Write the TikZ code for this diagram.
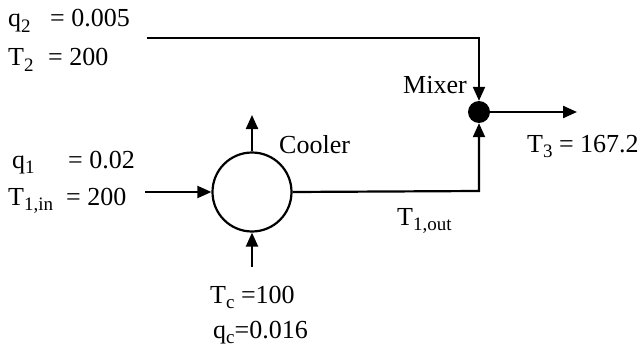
\documentclass[tikz,border=0pt]{standalone}
\usepackage{fontspec}
\setmainfont{Liberation Serif}
\usetikzlibrary{arrows.meta}
\newcommand\mysub[1]{\raisebox{-0.5ex}{\fontsize{19}{19}\selectfont #1}}
\tikzset{
  lbl/.style={inner sep=0pt, font=\fontsize{26}{28}\selectfont},
  pipe/.style={line width=2.2pt, -{Triangle[length=14pt,width=12pt]}},
}
\begin{document}
\begin{tikzpicture}[x=1pt,y=-1pt]
\useasboundingbox (0,0) rectangle (643,353);
% units
\node[circle, draw, line width=2.2pt, minimum size=79pt, inner sep=0pt] (cool) at (252,192) {};
\node[circle, fill=black, minimum size=22pt, inner sep=0pt] (mix) at (479,112) {};
% coordinates
\coordinate (in2) at (147,38);
\coordinate (in1) at (145,192);
\coordinate (cin) at (252,267);
\coordinate (cout) at (252,115);
\coordinate (c3) at (577,112);
\coordinate (bend2) at (479,38);
\coordinate (bend1) at (479,191);
% streams
\draw[pipe] (in2) -- (bend2) -- (mix.north);
\draw[pipe] (cool.east) -- (bend1) -- (mix.south);
\draw[pipe] (in1) -- (cool.west);
\draw[pipe] (cin) -- (cool.south);
\draw[pipe] (cool.north) -- (cout);
\draw[pipe] (mix.east) -- (c3);
% labels
\node[lbl, anchor=base west] (lq2) at (8,27) {q\mysub{2}};
\node[lbl, anchor=base west] (vq2) at (50,27) {= 0.005};
\node[lbl, anchor=base west] (lT2) at (8,66) {T\mysub{2}};
\node[lbl, anchor=base west] (vT2) at (48,66) {= 200};
\node[lbl, anchor=base west] (lq1) at (12,168) {q\mysub{1}};
\node[lbl, anchor=base west] (vq1) at (68,168) {= 0.02};
\node[lbl, anchor=base west] (lT1) at (8,205) {T\mysub{1,in}};
\node[lbl, anchor=base west] (vT1) at (66,205) {= 200};
\node[lbl, anchor=base west] (lcool) at (279,153) {Cooler};
\node[lbl, anchor=base west] (lmix) at (403,93) {Mixer};
\node[lbl, anchor=base west] (lT3) at (527,152) {T\mysub{3} = 167.2};
\node[lbl, anchor=base west] (lT1o) at (397,225) {T\mysub{1,out}};
\node[lbl, anchor=base west] (lTc) at (210,303) {T\mysub{c} =100};
\node[lbl, anchor=base west] (lqc) at (213,338) {q\mysub{c}=0.016};
\end{tikzpicture}
\end{document}
